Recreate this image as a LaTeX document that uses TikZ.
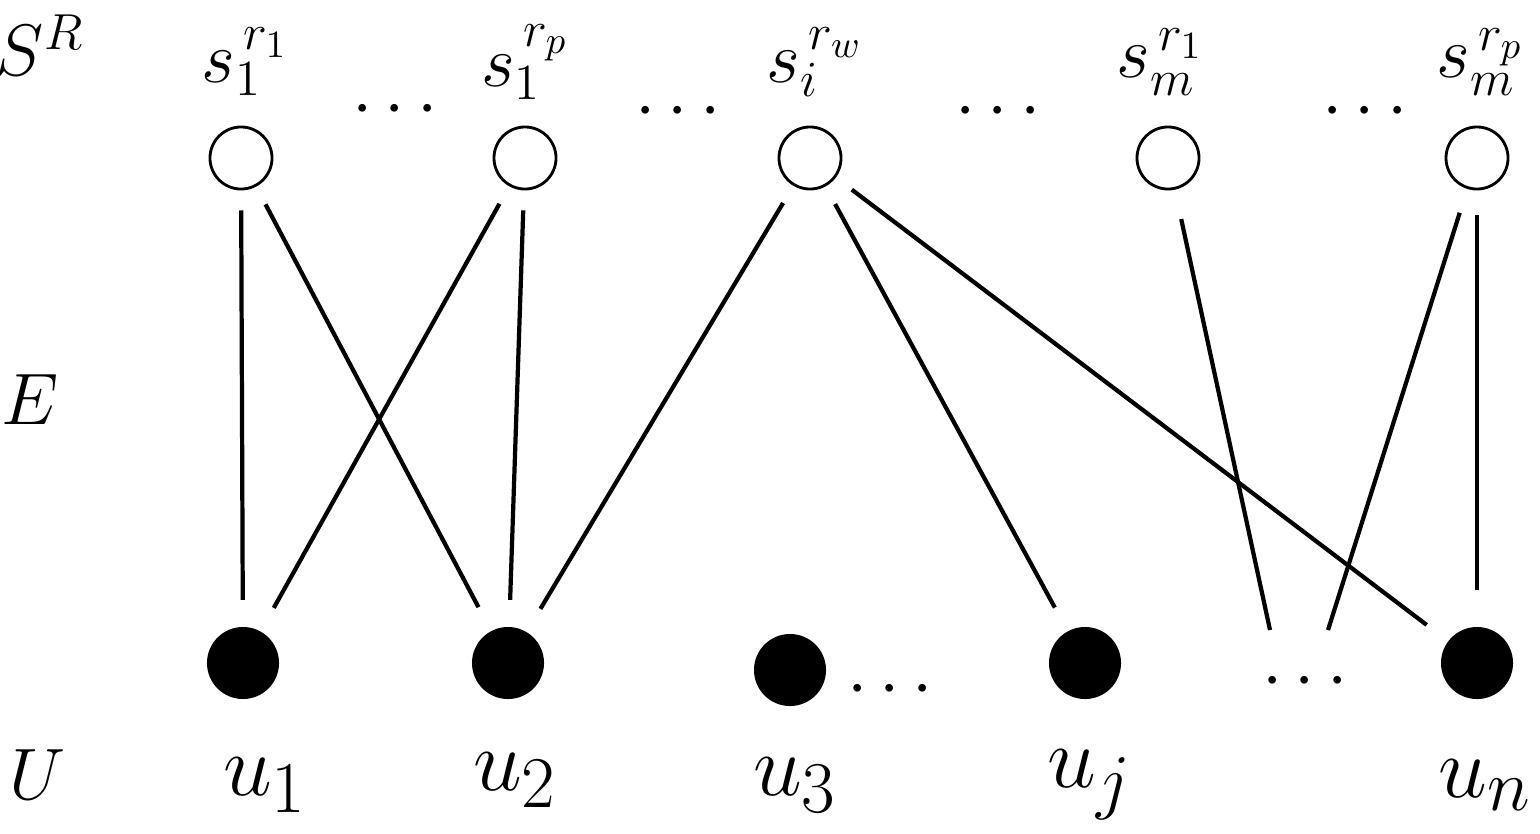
\documentclass[tikz,border=0pt]{standalone}
\usepackage{fontspec}
\setmainfont{Liberation Serif}
\usetikzlibrary{positioning}
\begin{document}
\begin{tikzpicture}[x=0.01cm,y=-0.01cm, very thick,
  snode/.style={circle,draw,thick,minimum size=0.62cm,inner sep=0pt},
  unode/.style={circle,fill,minimum size=0.72cm,inner sep=0pt},
  lab/.style={font=\fontsize{22}{26}\selectfont},
  ulab/.style={font=\fontsize{28}{32}\selectfont},
  gap/.style={shorten <=0.2cm,shorten >=0.25cm}]
  \useasboundingbox (0,0) rectangle (1540,833);

  % upper nodes
  \node[snode] (s1a) at (241,158) {};
  \node[snode] (s1p) at (525,158) {};
  \node[snode] (si)  at (810,158) {};
  \node[snode] (sm1) at (1168,158) {};
  \node[snode] (smp) at (1477,158) {};
  % lower nodes
  \node[unode] (u1) at (243,663) {};
  \node[unode] (u2) at (508,663) {};
  \node[unode] (u3) at (790,670) {};
  \node[unode] (uj) at (1085,663) {};
  \node[unode] (un) at (1477,663) {};
  \coordinate (d1) at (1270,630);
  \coordinate (d2) at (1328,630);

  % labels
  \node[lab] (lS) at (40,45) {$S^R$};
  \node[lab] (lE) at (30,400) {$E$};
  \node[lab] (lU) at (38,775) {$U$};
  \node[lab] (t1) at (245,62) {$s_1^{\,r_1}$};
  \node[lab] (t2) at (525,62) {$s_1^{\,r_p}$};
  \node[lab] (t3) at (815,62) {$s_i^{\,r_w}$};
  \node[lab] (t4) at (1160,62) {$s_m^{\,r_1}$};
  \node[lab] (t5) at (1480,62) {$s_m^{\,r_p}$};
  \node[ulab] (b1) at (265,785) {$u_1$};
  \node[ulab] (b2) at (515,780) {$u_2$};
  \node[ulab] (b3) at (795,785) {$u_3$};
  \node[ulab] (b4) at (1090,785) {$u_j$};
  \node[ulab] (b5) at (1485,785) {$u_n$};
  \foreach \x/\y in {395/110,678/112,998/112,1365/112,890/690,1305/682}
    \node[lab] at (\x,\y) {$\cdots$};

  % edges
  \draw[gap] (s1a) -- (u1);
  \draw[gap] (s1a) -- (u2);
  \draw[gap] (s1p) -- (u1);
  \draw[gap] (s1p) -- (u2);
  \draw[gap] (si) -- (u2);
  \draw[gap] (si) -- (uj);
  \draw[gap] (si) -- (un);
  \draw[shorten <=0.3cm] (sm1) -- (d1);
  \draw[shorten <=0.25cm] (smp) -- (d2);
  \draw[shorten <=0.25cm,shorten >=0.35cm] (smp) -- (un);
\end{tikzpicture}
\end{document}
